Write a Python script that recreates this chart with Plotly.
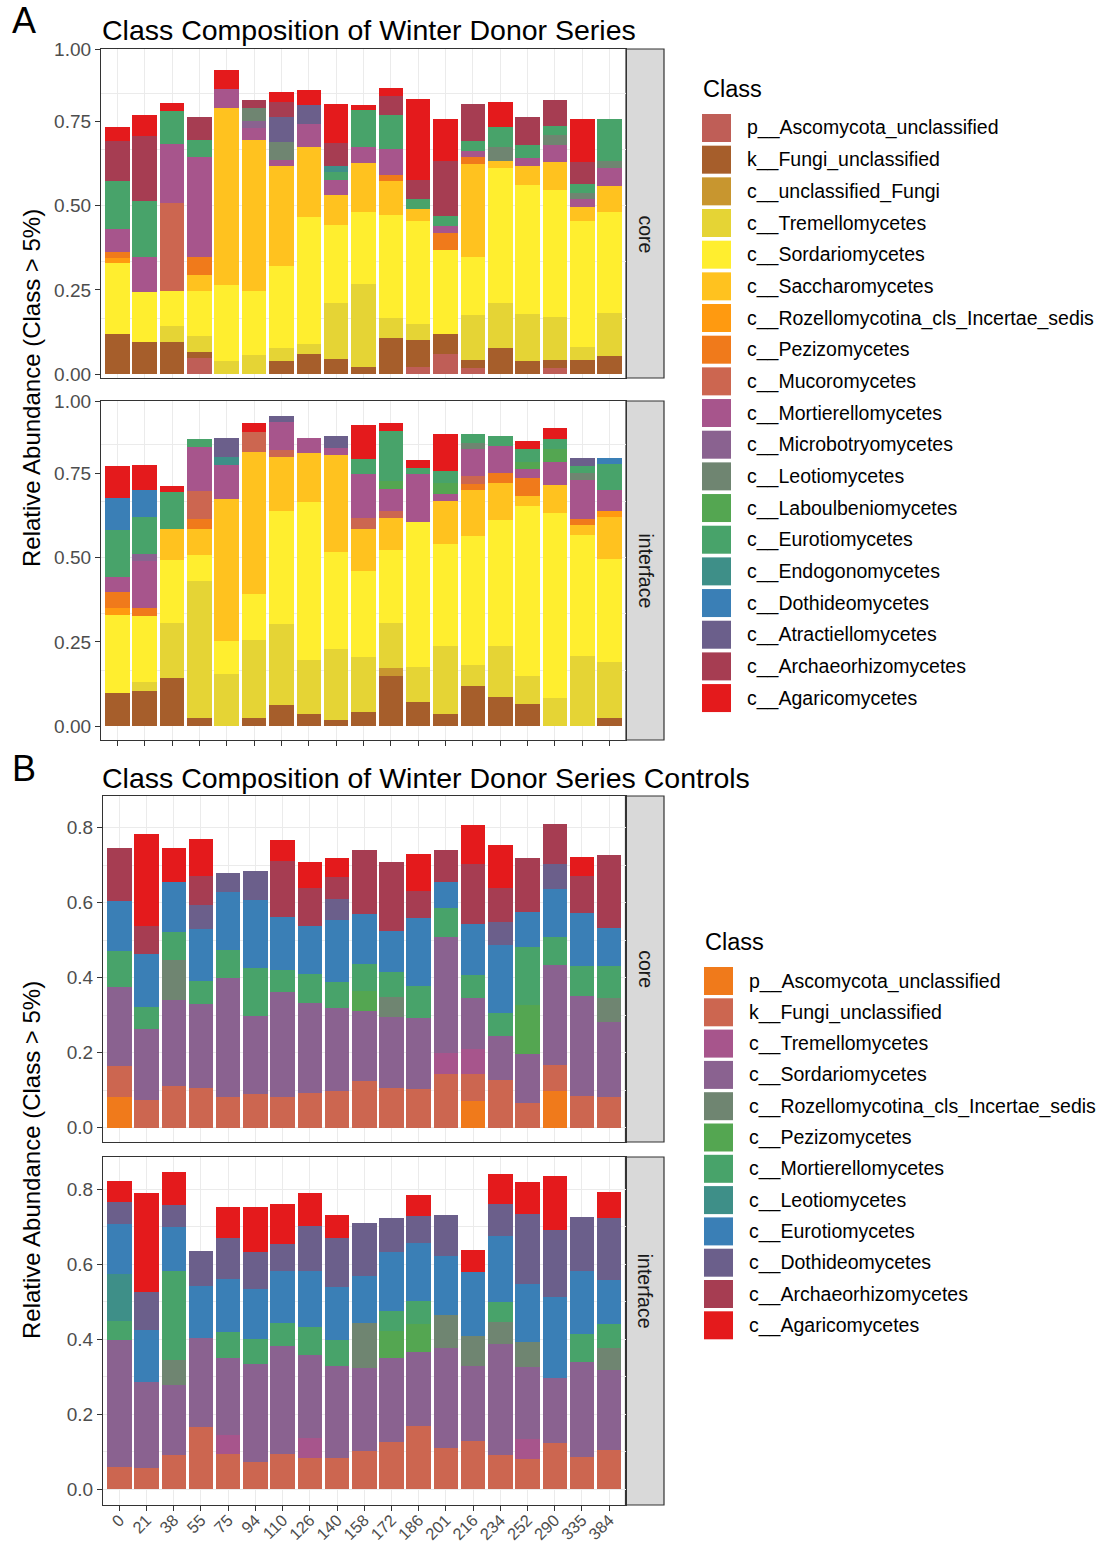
import plotly.graph_objects as go

W, H = 1101, 1544
FONT = "Liberation Sans, Arial, sans-serif"

timepoints = ["0", "21", "38", "55", "75", "94", "110", "126", "140", "158",
              "172", "186", "201", "216", "234", "252", "290", "335", "384"]

classes_a = [
    "p__Ascomycota_unclassified", "k__Fungi_unclassified", "c__unclassified_Fungi",
    "c__Tremellomycetes", "c__Sordariomycetes", "c__Saccharomycetes",
    "c__Rozellomycotina_cls_Incertae_sedis", "c__Pezizomycetes", "c__Mucoromycetes",
    "c__Mortierellomycetes", "c__Microbotryomycetes", "c__Leotiomycetes",
    "c__Laboulbeniomycetes", "c__Eurotiomycetes", "c__Endogonomycetes",
    "c__Dothideomycetes", "c__Atractiellomycetes", "c__Archaeorhizomycetes",
    "c__Agaricomycetes",
]
classes_b = [
    "p__Ascomycota_unclassified", "k__Fungi_unclassified", "c__Tremellomycetes",
    "c__Sordariomycetes", "c__Rozellomycotina_cls_Incertae_sedis", "c__Pezizomycetes",
    "c__Mortierellomycetes", "c__Leotiomycetes", "c__Eurotiomycetes",
    "c__Dothideomycetes", "c__Archaeorhizomycetes", "c__Agaricomycetes",
]

# ---- Winter donor series, core ----
a_core_ascomycota_unc = [0, 0, 0, 0.049, 0, 0, 0, 0, 0, 0, 0, 0.021, 0.059, 0.018, 0, 0, 0.020, 0, 0]
a_core_fungi_unc = [0.119, 0.097, 0.095, 0.016, 0, 0, 0.038, 0.060, 0.044, 0.021, 0.107, 0.081, 0.059, 0.025, 0.077, 0.040, 0.022, 0.043, 0.055]
a_core_unc_fungi = [0, 0, 0, 0, 0, 0, 0, 0, 0, 0, 0, 0, 0, 0, 0, 0, 0, 0, 0]
a_core_tremello = [0, 0, 0.048, 0.049, 0.040, 0.057, 0.041, 0.030, 0.168, 0.246, 0.061, 0.047, 0, 0.133, 0.135, 0.139, 0.128, 0.039, 0.127]
a_core_sordario = [0.210, 0.148, 0.104, 0.132, 0.225, 0.190, 0.243, 0.377, 0.232, 0.213, 0.305, 0.305, 0.250, 0.171, 0.400, 0.382, 0.376, 0.371, 0.299]
a_core_saccharo = [0, 0, 0, 0.048, 0.524, 0.448, 0.296, 0.208, 0.088, 0.146, 0.100, 0.037, 0, 0.276, 0.019, 0.057, 0.082, 0.042, 0.076]
a_core_rozello = [0.017, 0, 0, 0, 0, 0, 0, 0, 0, 0, 0, 0, 0, 0, 0, 0, 0, 0, 0]
a_core_pezizo = [0.016, 0, 0, 0.054, 0, 0, 0, 0, 0, 0, 0.018, 0, 0.052, 0.020, 0, 0, 0, 0, 0]
a_core_mucoro = [0, 0, 0.260, 0, 0, 0, 0, 0, 0, 0, 0, 0, 0, 0, 0, 0, 0, 0, 0]
a_core_mortierello = [0.068, 0.103, 0.176, 0.295, 0.058, 0.035, 0.017, 0.067, 0.045, 0.049, 0.078, 0, 0.021, 0.020, 0, 0.022, 0.053, 0.024, 0.054]
a_core_microbotryo = [0, 0, 0, 0, 0, 0.022, 0, 0, 0, 0, 0, 0, 0, 0, 0, 0, 0, 0, 0]
a_core_leotio = [0, 0, 0, 0, 0, 0.038, 0.054, 0, 0, 0, 0, 0, 0, 0, 0.043, 0, 0.028, 0.019, 0.021]
a_core_laboulbenio = [0, 0, 0, 0, 0, 0, 0, 0, 0, 0, 0, 0, 0, 0, 0, 0, 0, 0, 0]
a_core_eurotio = [0.144, 0.166, 0.098, 0.051, 0, 0, 0, 0, 0.023, 0.108, 0.099, 0.028, 0.029, 0.030, 0.058, 0.040, 0.027, 0.027, 0.125]
a_core_endogono = [0, 0, 0, 0, 0, 0, 0, 0, 0.018, 0, 0, 0, 0, 0, 0, 0, 0, 0, 0]
a_core_dothideo = [0, 0, 0, 0, 0, 0, 0, 0, 0, 0, 0, 0, 0, 0, 0, 0, 0, 0, 0]
a_core_atractiello = [0, 0, 0, 0, 0, 0, 0.075, 0.055, 0, 0, 0, 0, 0, 0, 0, 0, 0, 0, 0]
a_core_archaeo = [0.118, 0.191, 0, 0.069, 0, 0.023, 0.044, 0, 0.068, 0, 0.057, 0.058, 0.162, 0.107, 0, 0.083, 0.076, 0.063, 0]
a_core_agarico = [0.041, 0.064, 0.023, 0, 0.056, 0, 0.030, 0.047, 0.115, 0.015, 0.023, 0.238, 0.124, 0, 0.075, 0, 0, 0.129, 0]

# ---- Winter donor series, interface ----
a_int_ascomycota_unc = [0, 0, 0, 0, 0, 0, 0, 0, 0, 0, 0, 0, 0, 0, 0, 0, 0, 0, 0]
a_int_fungi_unc = [0.099, 0.104, 0.142, 0.025, 0, 0.025, 0.064, 0.037, 0.020, 0.043, 0.148, 0.071, 0.035, 0.119, 0.087, 0.067, 0, 0, 0.025]
a_int_unc_fungi = [0, 0, 0, 0, 0, 0, 0, 0, 0, 0, 0.025, 0, 0, 0, 0, 0, 0, 0, 0]
a_int_tremello = [0, 0.027, 0.164, 0.406, 0.154, 0.231, 0.238, 0.160, 0.208, 0.163, 0.133, 0.105, 0.202, 0.064, 0.151, 0.081, 0.084, 0.209, 0.166]
a_int_sordario = [0.230, 0.196, 0.187, 0.075, 0.099, 0.137, 0.337, 0.466, 0.288, 0.254, 0.215, 0.429, 0.302, 0.382, 0.374, 0.504, 0.547, 0.359, 0.306]
a_int_saccharo = [0, 0, 0.091, 0.078, 0.420, 0.421, 0.158, 0.148, 0.288, 0.123, 0.095, 0, 0.129, 0.136, 0.109, 0.030, 0.085, 0.028, 0.123]
a_int_rozello = [0.020, 0, 0, 0, 0, 0, 0, 0, 0, 0, 0, 0, 0, 0, 0, 0, 0, 0, 0.018]
a_int_pezizo = [0.050, 0.022, 0, 0.030, 0, 0, 0, 0, 0, 0, 0, 0, 0, 0.018, 0.030, 0.053, 0, 0.017, 0]
a_int_mucoro = [0, 0, 0, 0.083, 0, 0.059, 0.020, 0, 0, 0.035, 0.021, 0, 0, 0.023, 0, 0, 0, 0, 0]
a_int_mortierello = [0.043, 0.141, 0, 0.131, 0.102, 0, 0.084, 0.042, 0.020, 0.128, 0.065, 0.143, 0.019, 0.078, 0.080, 0.028, 0.068, 0.118, 0.061]
a_int_microbotryo = [0, 0.020, 0, 0, 0, 0, 0, 0, 0, 0, 0, 0, 0, 0, 0, 0, 0, 0, 0]
a_int_leotio = [0, 0, 0, 0, 0, 0, 0, 0, 0, 0, 0, 0, 0, 0.018, 0, 0, 0, 0.019, 0]
a_int_laboulbenio = [0, 0, 0, 0, 0, 0, 0, 0, 0, 0, 0.024, 0, 0.034, 0, 0, 0.020, 0.038, 0, 0]
a_int_eurotio = [0.140, 0.110, 0.111, 0.023, 0, 0, 0, 0, 0, 0.046, 0.148, 0.018, 0.034, 0.027, 0.028, 0.038, 0.028, 0.022, 0.079]
a_int_endogono = [0, 0, 0, 0, 0.024, 0, 0, 0, 0, 0, 0, 0, 0, 0, 0, 0, 0, 0, 0]
a_int_dothideo = [0.094, 0.081, 0, 0, 0, 0, 0, 0, 0, 0, 0, 0, 0, 0, 0, 0, 0, 0, 0.018]
a_int_atractiello = [0, 0, 0, 0, 0.054, 0, 0.017, 0, 0.035, 0, 0, 0, 0, 0, 0, 0, 0, 0.023, 0]
a_int_archaeo = [0, 0, 0, 0, 0, 0, 0, 0, 0, 0, 0, 0, 0, 0, 0, 0, 0, 0, 0]
a_int_agarico = [0.095, 0.074, 0.016, 0, 0, 0.025, 0, 0, 0, 0.102, 0.024, 0.024, 0.112, 0, 0, 0.023, 0.035, 0, 0]

# ---- Winter donor series controls, core ----
b_core_ascomycota_unc = [0.082, 0, 0, 0, 0, 0, 0, 0, 0, 0, 0, 0, 0, 0.070, 0, 0, 0.099, 0, 0]
b_core_fungi_unc = [0.083, 0.073, 0.112, 0.107, 0.081, 0.090, 0.083, 0.093, 0.098, 0.125, 0.106, 0.103, 0.142, 0.074, 0.126, 0.067, 0.068, 0.084, 0.082]
b_core_tremello = [0, 0, 0, 0, 0, 0, 0, 0, 0, 0, 0, 0, 0.058, 0.066, 0, 0, 0, 0, 0]
b_core_sordario = [0.210, 0.189, 0.229, 0.223, 0.318, 0.209, 0.279, 0.240, 0.222, 0.187, 0.189, 0.189, 0.309, 0.137, 0.118, 0.130, 0.268, 0.267, 0.200]
b_core_rozello = [0, 0, 0.106, 0, 0, 0, 0, 0, 0, 0, 0.054, 0, 0, 0, 0, 0, 0, 0, 0.065]
b_core_pezizo = [0, 0, 0, 0, 0, 0, 0, 0, 0, 0.053, 0, 0, 0, 0, 0, 0.129, 0, 0, 0]
b_core_mortierello = [0.095, 0.060, 0.074, 0.060, 0.074, 0.128, 0.059, 0.076, 0.068, 0.071, 0.066, 0.085, 0.078, 0.059, 0.062, 0.157, 0.073, 0.080, 0.083]
b_core_leotio = [0, 0, 0, 0, 0, 0, 0, 0, 0, 0, 0, 0, 0, 0, 0, 0, 0, 0, 0]
b_core_eurotio = [0.135, 0.140, 0.134, 0.139, 0.156, 0.180, 0.142, 0.129, 0.166, 0.133, 0.110, 0.182, 0.069, 0.137, 0.182, 0.093, 0.128, 0.141, 0.102]
b_core_dothideo = [0, 0, 0, 0.064, 0.051, 0.078, 0, 0, 0.057, 0, 0, 0, 0, 0, 0.060, 0, 0.066, 0, 0]
b_core_archaeo = [0.142, 0.077, 0, 0.079, 0, 0, 0.148, 0.101, 0.057, 0.172, 0.183, 0.072, 0.085, 0.159, 0.091, 0.142, 0.107, 0.098, 0.194]
b_core_agarico = [0, 0.244, 0.090, 0.099, 0, 0, 0.057, 0.069, 0.052, 0, 0, 0.100, 0, 0.106, 0.116, 0, 0, 0.052, 0]

# ---- Winter donor series controls, interface ----
b_int_ascomycota_unc = [0, 0, 0, 0, 0, 0, 0, 0, 0, 0, 0, 0, 0, 0, 0, 0, 0, 0, 0]
b_int_fungi_unc = [0.060, 0.056, 0.091, 0.166, 0.094, 0.074, 0.094, 0.084, 0.084, 0.102, 0.125, 0.170, 0.109, 0.129, 0.092, 0.081, 0.124, 0.087, 0.106]
b_int_tremello = [0, 0, 0, 0, 0.052, 0, 0, 0.052, 0, 0, 0, 0, 0, 0, 0, 0.054, 0, 0, 0]
b_int_sordario = [0.338, 0.229, 0.186, 0.237, 0.204, 0.260, 0.288, 0.221, 0.245, 0.221, 0.225, 0.197, 0.268, 0.200, 0.296, 0.191, 0.174, 0.253, 0.211]
b_int_rozello = [0, 0, 0.069, 0, 0, 0, 0, 0, 0, 0.120, 0, 0, 0.087, 0.080, 0.057, 0.066, 0, 0, 0.059]
b_int_pezizo = [0, 0, 0, 0, 0, 0, 0, 0, 0, 0, 0.072, 0.075, 0, 0, 0, 0, 0, 0, 0]
b_int_mortierello = [0.052, 0, 0.235, 0, 0.069, 0.068, 0.061, 0.075, 0.068, 0, 0.054, 0.059, 0, 0, 0.055, 0, 0, 0.075, 0.064]
b_int_leotio = [0.123, 0, 0, 0, 0, 0, 0, 0, 0, 0, 0, 0, 0, 0, 0, 0, 0, 0, 0]
b_int_eurotio = [0.135, 0.141, 0.119, 0.139, 0.142, 0.132, 0.140, 0.150, 0.142, 0.125, 0.156, 0.156, 0.159, 0.171, 0.175, 0.156, 0.214, 0.168, 0.117]
b_int_dothideo = [0.057, 0.101, 0.059, 0.093, 0.109, 0.099, 0.070, 0.120, 0.131, 0.141, 0.092, 0.071, 0.108, 0, 0.085, 0.187, 0.180, 0.143, 0.166]
b_int_archaeo = [0, 0, 0, 0, 0, 0, 0, 0, 0, 0, 0, 0, 0, 0, 0, 0, 0, 0, 0]
b_int_agarico = [0.057, 0.264, 0.087, 0, 0.082, 0.121, 0.108, 0.089, 0.062, 0, 0, 0.057, 0, 0.057, 0.082, 0.085, 0.143, 0, 0.069]

# fill palette shared by both series (series B uses the last 12 entries)
palette = [
    "#BF5E57", "#A65E2B", "#C8962F", "#E5D435", "#FFEE2F", "#FFC21F", "#FF9A10",
    "#F07A1B", "#CC6650", "#A7558C", "#8A6290", "#6F8571", "#54A651", "#48A36A",
    "#3E8F88", "#3A7FB6", "#6B5F8B", "#A63D52", "#E41A1C",
]
colors_a = palette
colors_b = palette[-len(classes_b):]

a_core = [a_core_ascomycota_unc, a_core_fungi_unc, a_core_unc_fungi, a_core_tremello,
          a_core_sordario, a_core_saccharo, a_core_rozello, a_core_pezizo, a_core_mucoro,
          a_core_mortierello, a_core_microbotryo, a_core_leotio, a_core_laboulbenio,
          a_core_eurotio, a_core_endogono, a_core_dothideo, a_core_atractiello,
          a_core_archaeo, a_core_agarico]
a_int = [a_int_ascomycota_unc, a_int_fungi_unc, a_int_unc_fungi, a_int_tremello,
         a_int_sordario, a_int_saccharo, a_int_rozello, a_int_pezizo, a_int_mucoro,
         a_int_mortierello, a_int_microbotryo, a_int_leotio, a_int_laboulbenio,
         a_int_eurotio, a_int_endogono, a_int_dothideo, a_int_atractiello,
         a_int_archaeo, a_int_agarico]
b_core = [b_core_ascomycota_unc, b_core_fungi_unc, b_core_tremello, b_core_sordario,
          b_core_rozello, b_core_pezizo, b_core_mortierello, b_core_leotio,
          b_core_eurotio, b_core_dothideo, b_core_archaeo, b_core_agarico]
b_int = [b_int_ascomycota_unc, b_int_fungi_unc, b_int_tremello, b_int_sordario,
         b_int_rozello, b_int_pezizo, b_int_mortierello, b_int_leotio,
         b_int_eurotio, b_int_dothideo, b_int_archaeo, b_int_agarico]


def fx(px):
    return px / W


def fy(py):
    return 1 - py / H


# panel boxes in pixels (left, right, top, bottom) and y ranges
panels = [
    dict(data=a_core, classes=classes_a, colors=colors_a, box=(101, 626, 49, 378),
         yrange=[-0.011, 0.9644], strip="core", kind="A", xticks=False),
    dict(data=a_int, classes=classes_a, colors=colors_a, box=(101, 626, 401, 740),
         yrange=[-0.0406, 0.9636], strip="interface", kind="A", xticks=True),
    dict(data=b_core, classes=classes_b, colors=colors_b, box=(103, 625.5, 796, 1142),
         yrange=[-0.038, 0.8845], strip="core", kind="B", xticks=False),
    dict(data=b_int, classes=classes_b, colors=colors_b, box=(103, 625.5, 1157, 1505),
         yrange=[-0.042, 0.886], strip="interface", kind="B", xticks=True),
]

fig = go.Figure()
shapes = []
annotations = []
layout_axes = {}

tick_font = dict(family=FONT, size=19, color="#4D4D4D")
xtick_font = dict(family=FONT, size=16.5, color="#4D4D4D")
GRID = "#EBEBEB"
LINE = "#333333"

for i, p in enumerate(panels):
    n = "" if i == 0 else str(i + 1)
    xa, ya = "x" + n, "y" + n
    for cls, vals, col in zip(p["classes"], p["data"], p["colors"]):
        fig.add_trace(go.Bar(
            x=timepoints, y=vals, name=cls, marker=dict(color=col, line=dict(width=0)),
            width=0.9, xaxis=xa, yaxis=ya, showlegend=False,
        ))
    left, right, top, bottom = p["box"]
    xaxis = dict(
        domain=[fx(left), fx(right)], anchor=ya, type="category",
        categoryorder="array", categoryarray=timepoints, range=[-0.6, 18.6],
        showgrid=True, gridcolor=GRID, gridwidth=1, zeroline=False,
        showline=True, mirror=True, linecolor=LINE, linewidth=1.2,
        ticks="outside" if p["xticks"] else "", ticklen=5, tickcolor=LINE, tickwidth=1.1,
        showticklabels=(p["xticks"] and p["kind"] == "B"),
        tickangle=-45, tickfont=xtick_font, ticklabelstandoff=-7,
        fixedrange=True, automargin=False,
    )
    if p["kind"] == "A":
        top_val = p["yrange"][1] - 0.0005
        yaxis = dict(
            tickmode="array", tickvals=[0, 0.25, 0.5, 0.75, top_val],
            ticktext=["0.00", "0.25", "0.50", "0.75", "1.00"],
            showgrid=False,
            minor=dict(tickmode="array", tickvals=[k / 6 for k in range(1, 6)],
                       showgrid=True, gridcolor=GRID, gridwidth=1, ticks=""),
        )
    else:
        yaxis = dict(
            tickmode="array", tickvals=[0, 0.2, 0.4, 0.6, 0.8],
            ticktext=["0.0", "0.2", "0.4", "0.6", "0.8"],
            showgrid=True, gridcolor=GRID, gridwidth=1,
            minor=dict(tickmode="array", tickvals=[0.1, 0.3, 0.5, 0.7],
                       showgrid=True, gridcolor=GRID, gridwidth=0.7, ticks=""),
        )
    yaxis.update(
        domain=[fy(bottom), fy(top)], anchor=xa, range=p["yrange"], zeroline=False,
        showline=True, mirror=True, linecolor=LINE, linewidth=1.2,
        ticks="outside", ticklen=5, tickcolor=LINE, tickwidth=1.1,
        tickfont=tick_font, fixedrange=True, automargin=False,
    )
    layout_axes["xaxis" + n] = xaxis
    layout_axes["yaxis" + n] = yaxis

    # facet strip on the right
    shapes.append(dict(type="rect", xref="paper", yref="paper",
                       x0=fx(right), x1=fx(664), y0=fy(bottom), y1=fy(top),
                       fillcolor="#D9D9D9", line=dict(color=LINE, width=1.2), layer="below"))
    annotations.append(dict(text=p["strip"], xref="paper", yref="paper",
                            x=fx((right + 664) / 2 + 1), y=fy((top + bottom) / 2),
                            textangle=90, showarrow=False,
                            font=dict(family=FONT, size=19.5, color="#1A1A1A")))

# titles, tags and shared y titles
for tag, ty, title, ymid in [
    ("A", 20, "Class Composition of Winter Donor Series", 388),
    ("B", 768, "Class Composition of Winter Donor Series Controls", 1160),
]:
    annotations.append(dict(text=tag, xref="paper", yref="paper", x=fx(10), y=fy(ty),
                            xanchor="left", yanchor="middle", showarrow=False,
                            font=dict(family=FONT, size=36, color="black")))
    annotations.append(dict(text=title, xref="paper", yref="paper", x=fx(100),
                            y=fy(ty + 10), xanchor="left", yanchor="middle", showarrow=False,
                            font=dict(family=FONT, size=28.5, color="black")))
    annotations.append(dict(text="Relative Abundance (Class > 5%)", xref="paper", yref="paper",
                            x=fx(31), y=fy(ymid), textangle=-90, showarrow=False,
                            xanchor="center", yanchor="middle",
                            font=dict(family=FONT, size=24, color="black")))

# legends: one per series
for classes, colors, title_y, first_y, step, bx in [
    (classes_a, colors_a, 89, 128, 31.67, 702),
    (classes_b, colors_b, 942, 981, 31.3, 704),
]:
    annotations.append(dict(text="Class", xref="paper", yref="paper", x=fx(bx - 1),
                            y=fy(title_y), xanchor="left", yanchor="middle", showarrow=False,
                            font=dict(family=FONT, size=23.5, color="black")))
    for k, (cls, col) in enumerate(zip(classes, colors)):
        cy = first_y + step * k
        shapes.append(dict(type="rect", xref="paper", yref="paper",
                           x0=fx(bx), x1=fx(bx + 29), y0=fy(cy + 14), y1=fy(cy - 14),
                           fillcolor=col, line=dict(width=0)))
        annotations.append(dict(text=cls, xref="paper", yref="paper", x=fx(bx + 43),
                                y=fy(cy), xanchor="left", yanchor="middle", showarrow=False,
                                font=dict(family=FONT, size=19.5, color="black")))

fig.update_layout(
    width=W, height=H, margin=dict(l=0, r=0, t=0, b=0, autoexpand=False),
    paper_bgcolor="white", plot_bgcolor="white",
    barmode="stack", bargap=0, showlegend=False,
    font=dict(family=FONT, color="black"),
    shapes=shapes, annotations=annotations, **layout_axes,
)

fig.write_html("out.html")
